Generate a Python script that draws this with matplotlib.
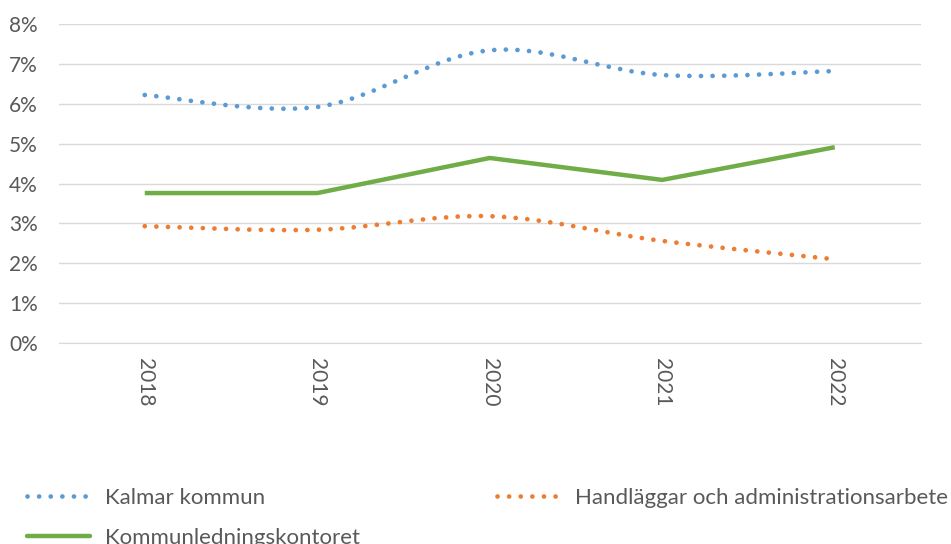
import matplotlib
matplotlib.use("Agg")
from matplotlib import pyplot as plt
from matplotlib.path import Path
from matplotlib.patches import PathPatch
from matplotlib.lines import Line2D
import matplotlib.ticker as mticker
import numpy as np

years = ["2018", "2019", "2020", "2021", "2022"]
kalmar = [6.22, 5.92, 7.34, 6.72, 6.82]
handlaggar = [2.93, 2.84, 3.18, 2.56, 2.10]
kommunledning = [3.76, 3.76, 4.64, 4.09, 4.91]

blue = "#5B9BD5"
orange = "#ED7D31"
green = "#70AD47"
text_color = "#595959"

plt.rcParams["font.family"] = ["Lato", "DejaVu Sans"]


def smooth_path(xs, ys):
    # Excel-style smoothed line: cubic bezier segments through the data points
    pts = np.column_stack([xs, ys]).astype(float)
    n = len(pts)
    verts = [pts[0]]
    codes = [Path.MOVETO]
    for i in range(n - 1):
        p0 = pts[i - 1] if i > 0 else pts[i]
        p1 = pts[i]
        p2 = pts[i + 1]
        p3 = pts[i + 2] if i + 2 < n else pts[i + 1]
        c1 = p1 + (p2 - p0) / 6.0
        c2 = p2 - (p3 - p1) / 6.0
        verts += [c1, c2, p2]
        codes += [Path.CURVE4] * 3
    return Path(verts, codes)


fig = plt.figure(figsize=(9.51, 5.44), dpi=100)
ax = fig.add_axes([58.5 / 951, 1 - 343 / 544, (921 - 58.5) / 951, (343 - 24) / 544])

x = np.arange(len(years))
dots = (0, (0.01, 2.45))
dot_lw = 3.4
solid_lw = 3.2

for vals, col in [(kalmar, blue), (handlaggar, orange)]:
    patch = PathPatch(smooth_path(x, vals), facecolor="none", edgecolor=col,
                      linestyle=dots, linewidth=dot_lw, capstyle="round",
                      joinstyle="round", zorder=3)
    ax.add_patch(patch)

ax.plot(x, kommunledning, color=green, linewidth=solid_lw, solid_joinstyle="miter",
        solid_capstyle="butt", zorder=3)

ax.set_xlim(-0.5, len(years) - 0.5)
ax.set_ylim(0, 8)
ax.yaxis.set_major_locator(mticker.MultipleLocator(1))
ax.yaxis.set_major_formatter(mticker.FuncFormatter(lambda v, p: f"{v:.0f}%"))
ax.set_xticks(x)
ax.set_xticklabels(years, rotation=-90)
ax.grid(axis="y", color="#D9D9D9", linewidth=1)
ax.set_axisbelow(True)
for s in ["top", "right", "left"]:
    ax.spines[s].set_visible(False)
ax.spines["bottom"].set_color("#D9D9D9")
ax.tick_params(axis="y", length=0, pad=15, labelsize=15, labelcolor=text_color)
ax.tick_params(axis="x", length=0, pad=10.5, labelsize=15, labelcolor=text_color)

h_k = Line2D([], [], color=blue, linestyle=dots, linewidth=dot_lw, dash_capstyle="round")
h_h = Line2D([], [], color=orange, linestyle=dots, linewidth=dot_lw, dash_capstyle="round")
h_g = Line2D([], [], color=green, linestyle="solid", linewidth=solid_lw, solid_capstyle="round")

leg_kw = dict(frameon=False, fontsize=16, labelcolor=text_color, borderpad=0,
              borderaxespad=0, handlelength=2.84, handletextpad=0.68,
              labelspacing=0.9, loc="upper left")
fig.legend([h_k, h_g], ["Kalmar kommun", "Kommunledningskontoret"],
           bbox_to_anchor=(27 / 951, 1 - 488 / 544), **leg_kw)
fig.legend([h_h], ["Handläggar och administrationsarbete"],
           bbox_to_anchor=(497 / 951, 1 - 488 / 544), **leg_kw)

fig.savefig("out.png", dpi=100)
